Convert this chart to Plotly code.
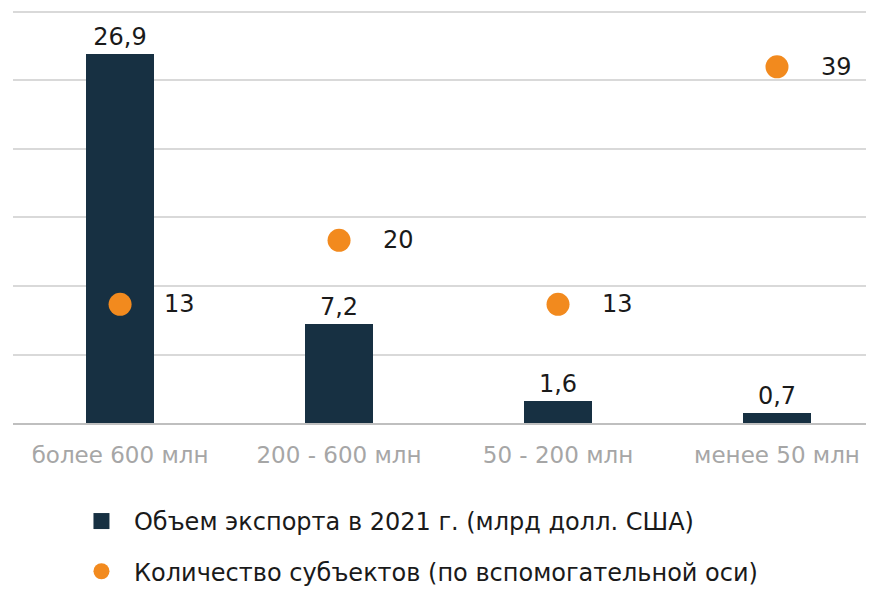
import plotly.graph_objects as go

categories = ["более 600 млн", "200 - 600 млн", "50 - 200 млн", "менее 50 млн"]
export_volume = [26.9, 7.2, 1.6, 0.7]
subjects_count = [13, 20, 13, 39]
bar_name = "Объем экспорта в 2021 г. (млрд долл. США)"
dot_name = "Количество субъектов (по вспомогательной оси)"

FONT = "DejaVu Sans, Open Sans, sans-serif"
BAR_COLOR = "#173042"
DOT_COLOR = "#F28A1E"

fig = go.Figure()
fig.add_trace(go.Bar(
    x=categories, y=export_volume, name=bar_name, showlegend=False,
    marker=dict(color=BAR_COLOR, line=dict(width=0)),
    width=0.31,
    text=[f"{v:.1f}".replace(".", ",") for v in export_volume],
    textposition="outside", cliponaxis=False,
    textfont=dict(family=FONT, size=24, color="#1a1a1a"),
))
# legend entry for the bars
fig.add_trace(go.Scatter(
    x=[None], y=[None], name=bar_name, mode="markers", legendgroup="a",
    marker=dict(color=BAR_COLOR, size=16, symbol="square"),
))
fig.add_trace(go.Scatter(
    x=categories, y=subjects_count, name=dot_name, yaxis="y2", legendgroup="b",
    mode="markers", marker=dict(color=DOT_COLOR, size=23),
    cliponaxis=False,
))
for c, v in zip(categories, subjects_count):
    fig.add_annotation(x=c, y=v, yref="y2", text=str(v), showarrow=False,
                       xanchor="left", xshift=42, yshift=0,
                       font=dict(family=FONT, size=24, color="#1a1a1a"))

fig.update_layout(
    width=866, height=600,
    margin=dict(l=5, r=0, t=0, b=185),
    plot_bgcolor="white", paper_bgcolor="white",
    font=dict(family=FONT, size=20, color="#1a1a1a"),
    showlegend=True,
    legend=dict(orientation="v", x=0.065, y=-0.183, xanchor="left", yanchor="top",
                font=dict(family=FONT, size=24, color="#1a1a1a"),
                tracegroupgap=16, itemsizing="trace", itemwidth=55),
    xaxis=dict(range=[-0.489, 3.443], showgrid=False, showline=True,
               linecolor="#BFBFBF", linewidth=2, ticks="", ticklabelstandoff=10,
               tickfont=dict(family=FONT, size=23, color="#A6A6A6")),
    yaxis=dict(range=[0, 30.29], dtick=5, showgrid=True, gridcolor="#D9D9D9",
               gridwidth=1.5, showticklabels=False, zeroline=False),
    yaxis2=dict(range=[0, 45.44], overlaying="y", side="right", showgrid=False,
                showticklabels=False, zeroline=False),
    bargap=0,
)
fig.write_html("out.html")
